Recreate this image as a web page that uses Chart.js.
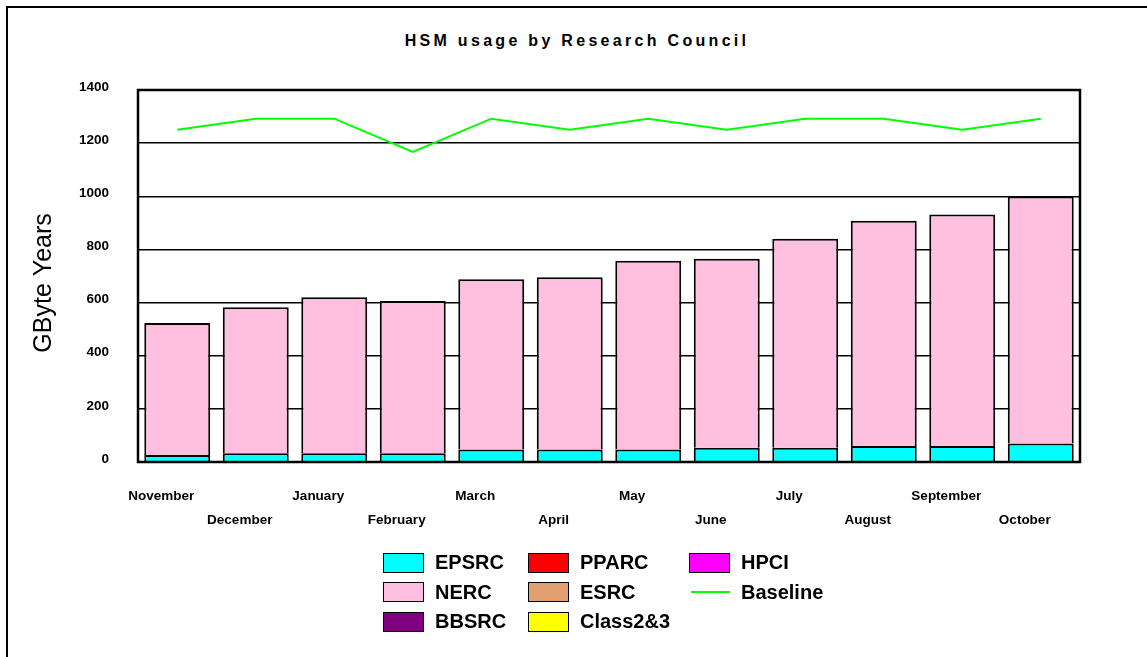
<!DOCTYPE html>
<html>
<head>
<meta charset="utf-8">
<title>HSM usage by Research Council</title>
<script src="https://cdn.jsdelivr.net/npm/chart.js@4.4.1/dist/chart.umd.min.js"></script>
<style>
  html, body { margin: 0; padding: 0; background: #fff; overflow: hidden; }
  body { width: 1147px; height: 657px; position: relative; font-family: "Liberation Sans", Arial, sans-serif; }
  #frame { position: absolute; left: 6px; top: 6px; width: 1200px; height: 700px; border-left: 2px solid #000; border-top: 2px solid #000; }
  #title { position: absolute; left: 0; top: 32px; width: 1154px; text-align: center; font-weight: bold; font-size: 16px; letter-spacing: 3.3px; color: #000; }
  #chart { position: absolute; left: 0; top: 0; }
  #legend { position: absolute; left: 383px; top: 548px; display: grid; grid-auto-flow: column;
            grid-template-rows: repeat(3, 29.5px); grid-template-columns: 145px 161px auto; }
  .item { display: flex; align-items: center; font-weight: bold; font-size: 20px; color: #000; }
  .box { width: 41px; height: 20px; box-sizing: border-box; border: 1.5px solid #000; margin-right: 11px; }
  .line { width: 41px; height: 20px; margin-right: 11px; display: flex; align-items: center; }
  .line span { display: block; width: 39px; height: 2px; margin-left: 2px; }
</style>
</head>
<body>
<div id="frame"></div>
<div id="title">HSM usage by Research Council</div>
<canvas id="chart" width="1147" height="657"></canvas>
<div id="legend"></div>

<script>
// 월별 카테고리 (x축)
const months = ['November', 'December', 'January', 'February', 'March', 'April',
                'May', 'June', 'July', 'August', 'September', 'October'];

// 연구위원회별 사용량 (GByte Years)
const epsrc  = [26, 33, 33, 33, 47, 47, 47, 54, 54, 60, 60, 70];
const nerc   = [497, 549, 587, 573, 641, 648, 710, 711, 786, 848, 871, 929];
const bbsrc  = [0, 0, 0, 0, 0, 0, 0, 0, 0, 0, 0, 0];
const pparc  = [0, 0, 0, 0, 0, 0, 0, 0, 0, 0, 0, 0];
const esrc   = [0, 0, 0, 0, 0, 0, 0, 0, 0, 0, 0, 0];
const class23 = [0, 0, 0, 0, 0, 0, 0, 0, 0, 0, 0, 0];
const hpci   = [0, 0, 0, 0, 0, 0, 0, 0, 0, 0, 0, 0];
const baseline = [1250, 1292, 1292, 1167, 1292, 1250, 1292, 1250, 1292, 1292, 1250, 1292];

// y축 눈금
const yTicks = [0, 200, 400, 600, 800, 1000, 1200, 1400];

const font = '"Liberation Sans", Arial, sans-serif';

// 라벨을 두 줄로 번갈아 배치
const labels = months.map((m, i) => i % 2 === 0 ? [m, ''] : ['', m]);

function bar(label, data, color) {
  return {
    type: 'bar', label: label, data: data,
    backgroundColor: color, borderColor: '#000',
    borderWidth: (c) => (c.raw ? 2 : 0),   // 0값 막대는 테두리 없음
    borderSkipped: 'start',                // 아래 테두리는 생략 (겹침 방지)
    stack: 'rc', order: 1,
    barPercentage: 0.84, categoryPercentage: 1.0
  };
}

const datasets = [
  bar('EPSRC', epsrc, '#00ffff'),
  bar('NERC', nerc, '#ffc0e0'),
  bar('BBSRC', bbsrc, '#800080'),
  bar('PPARC', pparc, '#ff0000'),
  bar('ESRC', esrc, '#e0a070'),
  bar('Class2&3', class23, '#ffff00'),
  bar('HPCI', hpci, '#ff00ff'),
  {
    type: 'line', label: 'Baseline', data: baseline,
    borderColor: '#00ff00', borderWidth: 2, pointRadius: 0,
    tension: 0, fill: false, stack: 'base', order: 0
  }
];

// 플롯 영역 테두리
const frameBox = {
  id: 'frameBox',
  afterDatasetsDraw(chart) {
    const a = chart.chartArea, ctx = chart.ctx;
    ctx.save();
    ctx.strokeStyle = '#000';
    ctx.lineWidth = 2.5;
    ctx.strokeRect(a.left, a.top, a.right - a.left, a.bottom - a.top);
    ctx.restore();
  }
};

const chart = new Chart(document.getElementById('chart'), {
  data: { labels: labels, datasets: datasets },
  options: {
    responsive: false,
    animation: false,
    layout: { padding: { left: 0, top: 90, right: 67, bottom: 115 } },
    plugins: { legend: { display: false }, title: { display: false }, tooltip: { enabled: false } },
    scales: {
      x: {
        stacked: true,
        grid: { display: false },
        border: { display: false },
        ticks: {
          autoSkip: false, maxRotation: 0, minRotation: 0,
          padding: 14, labelOffset: -16, color: '#000',
          font: { family: font, size: 13.5, weight: 'bold', lineHeight: 24 / 13.5 }
        },
        afterFit: (s) => { s.height = 80; }
      },
      y: {
        stacked: true,
        min: 0, max: 1400,
        afterBuildTicks: (s) => { s.ticks = yTicks.map(v => ({ value: v })); },
        grid: { color: '#000', lineWidth: 1.5, drawTicks: false },
        border: { display: false },
        ticks: {
          padding: 29, labelOffset: -3, color: '#000',
          font: { family: font, size: 13.5, weight: 'bold' },
          callback: (v) => String(v)
        },
        title: {
          display: true, text: 'GByte Years  ', color: '#000',
          font: { family: font, size: 25, weight: 'normal', lineHeight: 1.2 },
          padding: { top: 29, bottom: 0 }
        },
        afterFit: (s) => { s.width = 138; }
      }
    }
  },
  plugins: [frameBox]
});

// 범례 (3행, 열 우선 배치)
const legend = document.getElementById('legend');
chart.data.datasets.forEach(ds => {
  const item = document.createElement('div');
  item.className = 'item';
  if (ds.type === 'line') {
    item.innerHTML = `<div class="line"><span style="background:${ds.borderColor}"></span></div>${ds.label}`;
  } else {
    item.innerHTML = `<div class="box" style="background:${ds.backgroundColor}"></div>${ds.label}`;
  }
  legend.append(item);
});
</script>
</body>
</html>
